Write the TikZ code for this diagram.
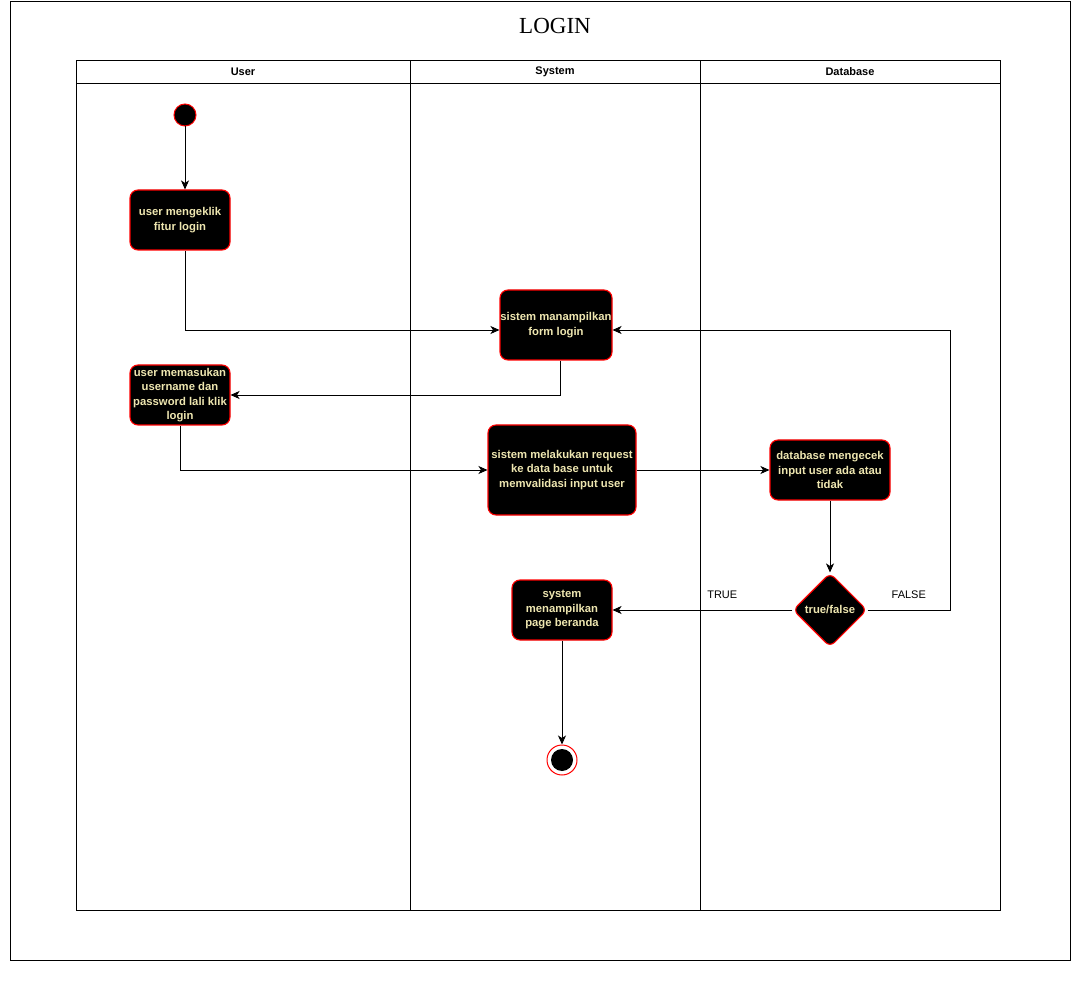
\documentclass[tikz,border=0pt]{standalone}
\usepackage{fontspec}
\setmainfont{Liberation Serif}
\setsansfont{Liberation Sans}
\usetikzlibrary{shapes.geometric,arrows.meta}

\definecolor{txtcream}{RGB}{238,230,176}

\begin{document}
\begin{tikzpicture}[x=1pt,y=-1pt,
    act/.style={rectangle,rounded corners=8pt,draw=red,line width=1.1pt,fill=black,
        text=txtcream,font=\sffamily\bfseries\fontsize{11.3}{14.5}\selectfont,align=center,inner sep=0pt},
    cond/.style={diamond,aspect=1,rounded corners=6pt,draw=red,line width=1.1pt,fill=black,
        text=txtcream,font=\sffamily\bfseries\fontsize{11.3}{14}\selectfont,inner sep=0pt,
        minimum width=74pt,minimum height=74pt},
    arr/.style={-{Stealth[length=9pt,width=8pt,inset=2.5pt]},line width=0.9pt},
    lane/.style={font=\sffamily\bfseries\fontsize{11}{13}\selectfont},
    guard/.style={font=\sffamily\fontsize{11}{13}\selectfont,above=8pt}]
    \useasboundingbox (0,0) rectangle (1090,981);

    % Cadre et titre
    \draw[line width=0.8pt] (10,1) rectangle (1070,960);
    \node[font=\fontsize{23}{27}\selectfont] (title) at (555,26) {LOGIN};

    % Couloirs
    \foreach \xa/\xb/\name in {76/410/User,410/700/System,700/1000/Database} {
        \draw[line width=0.8pt] (\xa,60) rectangle (\xb,910);
        \draw[line width=0.8pt] (\xa,83) -- (\xb,83);
        \node[lane] (L\name) at ({(\xa+\xb)/2},72) {\name};
    }

    % Debut et fin
    \node[circle,fill=black,draw=red,line width=1pt,minimum size=22pt,inner sep=0pt] (start) at (185,115) {};
    \node[circle,draw=red,line width=1pt,fill=white,minimum size=30pt,inner sep=0pt] (stop) at (562,760) {};
    \node[circle,fill=black,minimum size=22pt,inner sep=0pt] (stopin) at (stop) {};

    % Activites
    \node[act,minimum width=100pt,minimum height=60pt] (A1) at (180,220) {user mengeklik\\fitur login};
    \node[act,minimum width=112pt,minimum height=70pt] (A2) at (556,325) {sistem manampilkan\\form login};
    \node[act,minimum width=100pt,minimum height=60pt] (A3) at (180,395) {user memasukan\\username dan\\password lali klik\\login};
    \node[act,minimum width=148pt,minimum height=90pt] (A4) at (562,470) {sistem melakukan request\\ke data base untuk\\memvalidasi input user};
    \node[act,minimum width=120pt,minimum height=60pt] (A5) at (830,470) {database mengecek\\input user ada atau\\tidak};
    \node[act,minimum width=100pt,minimum height=60pt] (A6) at (562,610) {system\\menampilkan\\page beranda};
    \node[cond] (D) at (830,610) {true/false};
    \coordinate (back) at (950,610);

    % Fleches
    \draw[arr] (start) -- (start |- A1.north);
    \draw[arr] (A1.south -| start) |- ([yshift=-5pt]A2.west);
    \draw[arr] ([xshift=4pt]A2.south) |- (A3.east);
    \draw[arr] (A3.south) |- (A4.west);
    \draw[arr] (A4.east) -- (A5.west);
    \draw[arr] (A5.south) -- (D.north);
    \draw[arr] (D.west) -- node[guard,pos=0.39] (Ltrue) {TRUE} (A6.east);
    \draw[arr] (D.east) -- node[guard] (Lfalse) {FALSE} (back) |- ([yshift=-5pt]A2.east);
    \draw[arr] (A6.south) -- (stop.north);

\end{tikzpicture}
\end{document}
